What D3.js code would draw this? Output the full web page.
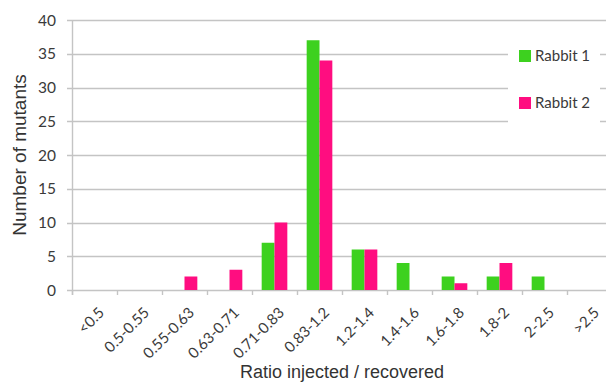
<!DOCTYPE html>
<html>
<head>
<meta charset="utf-8">
<script src="https://cdn.jsdelivr.net/npm/d3@7"></script>
<style>
  body { margin: 0; background: #fff; }
  text { font-family: Lato, "Open Sans", sans-serif; fill: #3a3a3a; }
  text.title { font-family: "Liberation Sans", Arial, sans-serif; fill: #333; }
</style>
</head>
<body>
<div id="chart"></div>
<script>
// --- Data ---
const categories = ["<0.5", "0.5-0.55", "0.55-0.63", "0.63-0.71", "0.71-0.83", "0.83-1.2",
                    "1.2-1.4", "1.4-1.6", "1.6-1.8", "1.8-2", "2-2.5", ">2.5"];
const rabbit1 = [0, 0, 0, 0, 7, 37, 6, 4, 2, 2, 2, 0];
const rabbit2 = [0, 0, 2, 3, 10, 34, 6, 0, 1, 4, 0, 0];
const seriesNames = ["Rabbit 1", "Rabbit 2"];
const yTicks = [0, 5, 10, 15, 20, 25, 30, 35, 40];

const colors = ["#3dd11f", "#ff0d80"];
const width = 606, height = 383;
const margin = { left: 72, right: -6, top: 20, bottom: 93 };

const svg = d3.select("#chart").append("svg")
    .attr("width", width)
    .attr("height", height);

const x = d3.scaleBand()
    .domain(categories)
    .range([margin.left, width - margin.right]);

const xInner = d3.scaleBand()
    .domain(seriesNames)
    .range([0, x.bandwidth() * 0.57])
    .padding(0);

const y = d3.scaleLinear()
    .domain([0, 40])
    .range([height - margin.bottom, margin.top]);

// --- Gridlines ---
svg.append("g")
    .selectAll("line")
    .data(yTicks)
    .join("line")
    .attr("x1", margin.left - 5)
    .attr("x2", width)
    .attr("y1", d => Math.round(y(d)) + 0.5)
    .attr("y2", d => Math.round(y(d)) + 0.5)
    .attr("stroke", "#c4c4c4")
    .attr("stroke-width", 1.4);

// y axis line
svg.append("line")
    .attr("x1", margin.left + 0.5).attr("x2", margin.left + 0.5)
    .attr("y1", y(40)).attr("y2", y(0) + 5)
    .attr("stroke", "#c4c4c4").attr("stroke-width", 1.4);

// x tick marks
svg.append("g")
    .selectAll("line")
    .data(categories)
    .join("line")
    .attr("x1", d => Math.round(x(d)) + 0.5)
    .attr("x2", d => Math.round(x(d)) + 0.5)
    .attr("y1", y(0))
    .attr("y2", y(0) + 5)
    .attr("stroke", "#c4c4c4").attr("stroke-width", 1.4);

// y tick labels
svg.append("g")
    .selectAll("text")
    .data(yTicks)
    .join("text")
    .attr("x", margin.left - 16)
    .attr("y", d => y(d))
    .attr("dy", "0.36em")
    .attr("text-anchor", "end")
    .attr("font-size", 15.5)
    .text(d => d);

// --- Bars ---
const series = [rabbit1, rabbit2];
const groupOffset = (x.bandwidth() - xInner.range()[1]) / 2;

const groups = svg.append("g")
    .selectAll("g")
    .data(categories)
    .join("g")
    .attr("transform", d => `translate(${x(d) + groupOffset},0)`);

groups.selectAll("rect")
    .data((d, i) => series.map((s, j) => ({ name: seriesNames[j], value: s[i], k: j })))
    .join("rect")
    .filter(d => d.value > 0)
    .attr("x", d => xInner(d.name))
    .attr("width", xInner.bandwidth())
    .attr("y", d => y(d.value))
    .attr("height", d => y(0) - y(d.value))
    .attr("fill", d => colors[d.k]);

// x labels, rotated
svg.append("g")
    .selectAll("text")
    .data(categories)
    .join("text")
    .attr("transform", d => `translate(${x(d) + x.bandwidth() / 2 + 7},${y(0) + 20}) rotate(-45)`)
    .attr("text-anchor", "end")
    .attr("dy", "0.35em")
    .attr("font-size", 15)
    .text(d => d);

// --- Axis titles ---
svg.append("text")
    .attr("class", "title")
    .attr("x", 342)
    .attr("y", 378)
    .attr("text-anchor", "middle")
    .attr("font-size", 18)
    .text("Ratio injected / recovered");

svg.append("text")
    .attr("class", "title")
    .attr("transform", `translate(26,155) rotate(-90)`)
    .attr("text-anchor", "middle")
    .attr("font-size", 19)
    .text("Number of mutants");

// --- Legend ---
const legend = svg.append("g").attr("transform", "translate(508,38)");
legend.append("rect")
    .attr("width", 92).attr("height", 90)
    .attr("fill", "#fff");

const items = legend.selectAll("g.item")
    .data(seriesNames)
    .join("g")
    .attr("class", "item")
    .attr("transform", (d, i) => `translate(11,${12 + i * 47})`);

items.append("rect")
    .attr("width", 12).attr("height", 12)
    .attr("fill", (d, i) => colors[i]);

items.append("text")
    .attr("x", 16)
    .attr("y", 6)
    .attr("dy", "0.36em")
    .attr("font-size", 15)
    .text(d => d);
</script>
</body>
</html>
